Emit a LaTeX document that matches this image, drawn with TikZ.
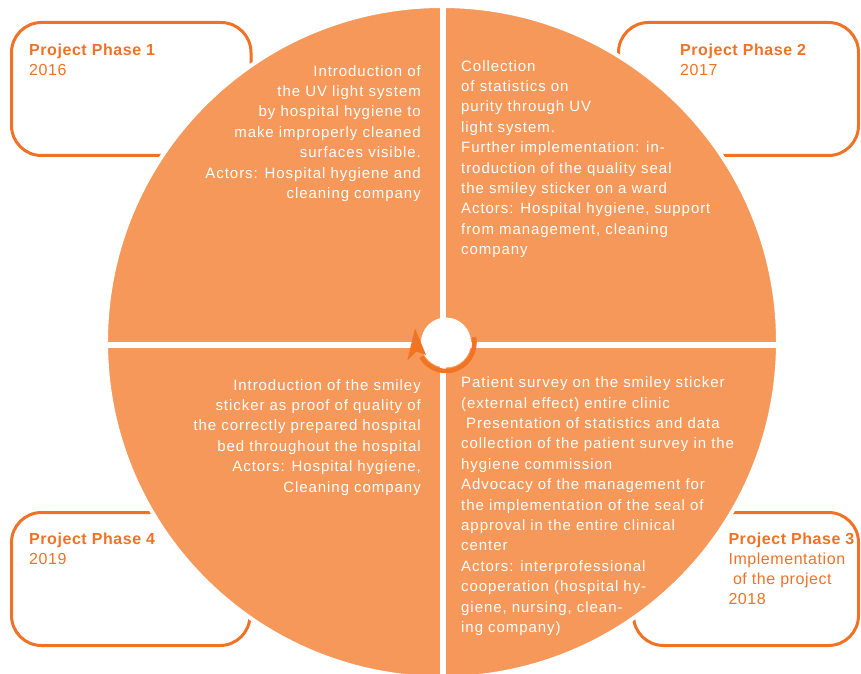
\documentclass[tikz,border=0pt]{standalone}
\usepackage{fontspec}
\setmainfont{Liberation Sans}
\newfontfamily\bodyfont[LetterSpace=6.3]{Liberation Sans}
\newfontfamily\boxfont[LetterSpace=3.5]{Liberation Sans}
\definecolor{discfill}{RGB}{245,152,90}
\definecolor{phaseorange}{RGB}{240,114,38}
\definecolor{ringorange}{RGB}{240,116,34}
\tikzset{
  phasebox/.style={draw=phaseorange, line width=3pt, rounded corners=30pt, inner sep=0pt, anchor=north west},
  phasetext/.style={inner sep=0pt, anchor=north west, align=left, text=phaseorange, font=\boxfont\fontsize{16}{20}\selectfont},
  bodyleft/.style={inner sep=0pt, anchor=north west, align=left, text=white, font=\bodyfont\fontsize{15}{20.4}\selectfont},
  bodyright/.style={inner sep=0pt, anchor=north east, align=right, text=white, font=\bodyfont\fontsize{15}{20.4}\selectfont},
  gapline/.style={draw=white, line width=6pt}
}
\begin{document}
\begin{tikzpicture}[x=1pt,y=1pt]
\useasboundingbox (0,0) rectangle (861,673);
% phase boxes
\node[phasebox, minimum width=239.5pt, minimum height=133pt] (box1) at (10,652) {};
\node[phasebox, minimum width=240pt, minimum height=133pt] (box2) at (617,652) {};
\node[phasebox, minimum width=238.5pt, minimum height=133pt] (box4) at (10,162) {};
\node[phasebox, minimum width=225pt, minimum height=133pt] (box3) at (632,162) {};
\node[phasetext] (t1) at (29,629.7) {\textbf{Project Phase 1}\\2016};
\node[phasetext] (t2) at (680,629.7) {\textbf{Project Phase 2}\\2017};
\node[phasetext] (t4) at (29,140.4) {\textbf{Project Phase 4}\\2019};
\node[phasetext] (t3) at (728.3,140.4) {\textbf{Project Phase 3}\\Implementation\\\hspace*{4.5pt}of the project\\2018};
% disc
\node[circle, fill=discfill, draw=white, line width=4pt, minimum size=672pt, inner sep=0pt] (disc) at (442,331) {};
\draw[gapline] (443,-10) -- (443,680);
\draw[gapline] (100,328.5) -- (790,328.5);
% hub
\node[circle, fill=white, minimum size=50pt, inner sep=0pt] (hub) at (446,330.5) {};
\draw[ringorange, line width=4.5pt] (hub.center) ++(11:28.5) arc[start angle=11, end angle=-150, radius=28.5];
\fill[ringorange] (415,344.7) -- (426,318) -- (416.5,321.5) -- (407.3,312.5) -- cycle;
% quadrant texts
\node[bodyright] (q1) at (421,608) {Introduction of\\the UV light system\\by hospital hygiene to\\make improperly cleaned\\surfaces visible.\\Actors: Hospital hygiene and\\cleaning company};
\node[bodyleft] (q2) at (461,613) {Collection\\of statistics on\\purity through UV\\light system.\\Further implementation: in-\\troduction of the quality seal\\the smiley sticker on a ward\\Actors: Hospital hygiene, support\\from management, cleaning\\company};
\node[bodyleft] (q3) at (461,296.3) {Patient survey on the smiley sticker\\(external effect) entire clinic\\\hspace*{5pt}Presentation of statistics and data\\collection of the patient survey in the\\hygiene commission\\Advocacy of the management for\\the implementation of the seal of\\approval in the entire clinical\\center\\Actors: interprofessional\\cooperation (hospital hy-\\giene, nursing, clean-\\ing company)};
\node[bodyright] (q4) at (421,294) {Introduction of the smiley\\sticker as proof of quality of\\the correctly prepared hospital\\bed throughout the hospital\\Actors: Hospital hygiene,\\Cleaning company};
\end{tikzpicture}
\end{document}
